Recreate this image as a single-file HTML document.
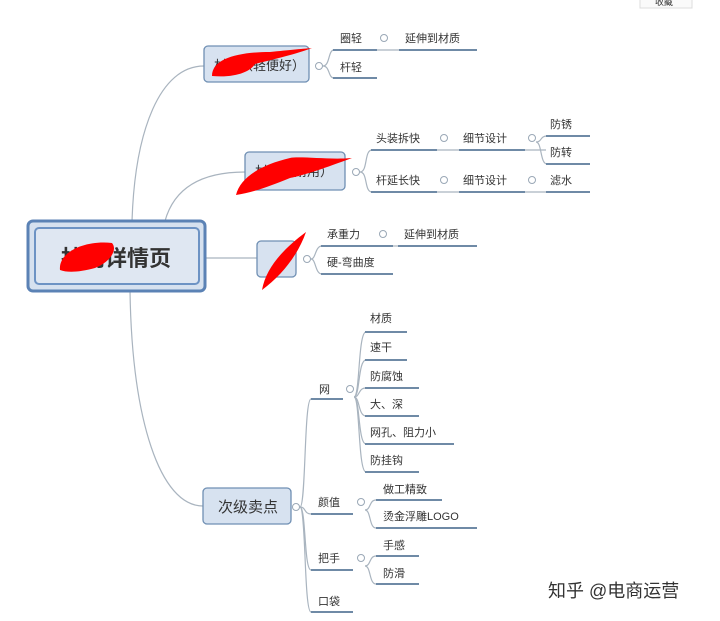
<!DOCTYPE html>
<html><head><meta charset="utf-8"><style>
html,body{margin:0;padding:0;background:#fff;}
svg{display:block;}
text{font-family:"Liberation Sans","Noto Sans CJK SC",sans-serif;fill:#333;}
</style></head><body>
<svg width="720" height="621" viewBox="0 0 720 621" xmlns="http://www.w3.org/2000/svg">
<rect width="720" height="621" fill="#fff"/>
<rect x="640" y="-4" width="52" height="12" fill="#fafafa" stroke="#ddd"/>
<text x="655" y="5" font-size="9" fill="#777">收藏</text>
<g fill="none" stroke="#a9b4bf" stroke-width="1.2">
<path d="M132 221 C135 130 160 66 204 66"/>
<path d="M165 221 C175 185 205 172 245 172"/>
<path d="M205 258 L257 258"/>
<path d="M130 291 C132 420 160 506 203 506"/>
</g>
<rect x="28" y="221" width="177" height="70" rx="5" fill="#d6e1ef" stroke="#5b82b5" stroke-width="3"/>
<rect x="35" y="228" width="164" height="56" rx="4" fill="#dfe7f2" stroke="#6d93c4" stroke-width="2"/>
<text x="116" y="266" font-size="22" font-weight="bold" text-anchor="middle" fill="#2f4a6b">抄网详情页</text>
<path d="M60 270 C58 252 85 240 112 243 C118 250 110 262 95 268 C80 272 68 273 60 270Z" fill="#f00"/>
<g fill="#d7e2f0" stroke="#6f8fb3" stroke-width="1.3">
<rect x="204" y="46" width="105" height="36" rx="4"/>
<rect x="245" y="152" width="100" height="38" rx="4"/>
<rect x="257" y="241" width="39" height="36" rx="4"/>
<rect x="203" y="488" width="88" height="36" rx="4"/>
</g>
<text x="214" y="70" font-size="13">材质（轻便好）</text>
<text x="255" y="176" font-size="13">材质（耐用）</text>
<text x="218" y="512" font-size="15" fill="#3a4f66">次级卖点</text>
<g fill="#f00">
<path d="M212 76 C212 58 240 52 270 52 C290 50 300 49 312 48 C290 56 270 60 255 64 C250 72 235 78 212 76Z"/>
<path d="M236 195 C240 178 260 165 290 158 C300 156 330 160 352 158 C325 168 305 175 290 178 C270 186 255 192 236 195Z"/>
<path d="M262 290 C266 268 282 250 306 232 C298 255 282 275 262 290Z"/>
</g>
<g fill="#fff" stroke="#9aa8b6" stroke-width="1">
<circle cx="319" cy="66" r="3.5"/><circle cx="356" cy="172" r="3.5"/><circle cx="307" cy="259" r="3.5"/><circle cx="296" cy="507" r="3.5"/>
<circle cx="384" cy="38" r="3.5"/><circle cx="444" cy="138" r="3.5"/><circle cx="532" cy="138" r="3.5"/><circle cx="444" cy="180" r="3.5"/><circle cx="532" cy="180" r="3.5"/><circle cx="383" cy="234" r="3.5"/>
<circle cx="350" cy="389" r="3.5"/><circle cx="361" cy="502" r="3.5"/><circle cx="361" cy="558" r="3.5"/>
</g>
<g fill="none" stroke="#a9b4bf" stroke-width="1.2">
<path d="M323 66 C330 66 328 50 334 50"/><path d="M323 66 C330 66 328 78 334 78"/>
<path d="M360 172 C368 172 364 150 372 150"/><path d="M360 172 C368 172 364 192 372 192"/>
<path d="M536 142 C542 142 540 136 547 136"/><path d="M536 142 C542 142 540 164 547 164"/>
<path d="M311 259 C316 259 315 246 322 246"/><path d="M311 259 C316 259 315 274 322 274"/>
<path d="M300 507 C306 507 304 399 311 399"/><path d="M300 507 C306 507 304 514 311 514"/>
<path d="M300 507 C306 507 304 570 311 570"/><path d="M300 507 C306 507 304 612 311 612"/>
<path d="M354 397 C360 397 358 332 366 332"/><path d="M354 397 C360 397 358 360 366 360"/><path d="M354 397 C360 397 358 388 366 388"/><path d="M354 397 C360 397 358 416 366 416"/><path d="M354 397 C360 397 358 444 366 444"/><path d="M354 397 C360 397 358 472 366 472"/>
<path d="M365 510 C371 510 369 500 376 500"/><path d="M365 510 C371 510 369 528 376 528"/>
<path d="M365 566 C371 566 369 556 376 556"/><path d="M365 566 C371 566 369 584 376 584"/>
<path d="M377 50 L399 50"/><path d="M437 150 L459 150"/><path d="M525 150 L546 150"/><path d="M437 192 L459 192"/><path d="M525 192 L546 192"/><path d="M393 246 L398 246"/>
</g>
<g stroke="#6f8aa6" stroke-width="2">
<path d="M333 50H377M399 50H477M333 78H377"/>
<path d="M371 150H437M459 150H525M546 136H590M546 164H590M371 192H437M459 192H525M546 192H590"/>
<path d="M321 246H393M398 246H477M321 274H393"/>
<path d="M311 399H343M365 332H407M365 360H407M365 388H419M365 416H419M365 444H454M365 472H419"/>
<path d="M311 514H353M376 500H442M376 528H477M311 570H353M376 556H419M376 584H419M311 612H353"/>
</g>
<g font-size="11">
<text x="340" y="42">圈轻</text><text x="405" y="42">延伸到材质</text><text x="340" y="71">杆轻</text>
<text x="376" y="142">头装拆快</text><text x="463" y="142">细节设计</text><text x="550" y="128">防锈</text><text x="550" y="156">防转</text>
<text x="376" y="184">杆延长快</text><text x="463" y="184">细节设计</text><text x="550" y="184">滤水</text>
<text x="327" y="238">承重力</text><text x="404" y="238">延伸到材质</text><text x="327" y="266">硬-弯曲度</text>
<text x="319" y="393">网</text>
<text x="370" y="322">材质</text><text x="370" y="351">速干</text><text x="370" y="380">防腐蚀</text><text x="370" y="408">大、深</text><text x="370" y="436">网孔、阻力小</text><text x="370" y="464">防挂钩</text>
<text x="318" y="506">颜值</text><text x="383" y="493">做工精致</text><text x="383" y="520">烫金浮雕LOGO</text>
<text x="318" y="562">把手</text><text x="383" y="549">手感</text><text x="383" y="577">防滑</text>
<text x="318" y="605">口袋</text>
</g>
<text x="548" y="597" font-size="18" fill="#bbbbbb">知乎 @电商运营</text>
</svg>
</body></html>
